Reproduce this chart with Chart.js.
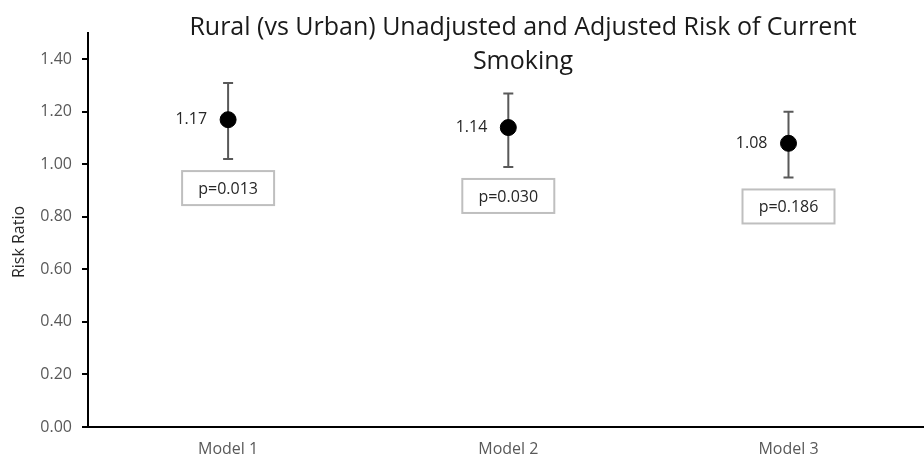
<!DOCTYPE html>
<html>
<head>
<meta charset="utf-8">
<script src="https://cdn.jsdelivr.net/npm/chart.js@4"></script>
<style>
  html, body { margin: 0; padding: 0; background: #fff; overflow: hidden; }
  #riskCanvas { display: block; }
</style>
</head>
<body>
<canvas id="riskCanvas" width="932" height="459"></canvas>
<script>
// ---------------- DATA ----------------
const models = ['Model 1', 'Model 2', 'Model 3'];
const riskRatio = [1.17, 1.14, 1.08];
const ciLower = [1.02, 0.99, 0.95];
const ciUpper = [1.31, 1.27, 1.20];
const pValues = ['p=0.013', 'p=0.030', 'p=0.186'];
const titleLines = ['Rural (vs Urban) Unadjusted and Adjusted Risk of Current', 'Smoking'];
const yTitle = 'Risk Ratio';

const FONT = "'Open Sans', sans-serif";

// error bars + labels + p boxes, drawn with the chart scales
const annotations = {
    id: 'annotations',
    beforeDatasetsDraw(chart) {
        const ctx = chart.ctx;
        const x = chart.scales.x, y = chart.scales.y;
        ctx.save();
        ctx.strokeStyle = '#595959';
        ctx.lineWidth = 2;
        models.forEach((m, i) => {
            const px = x.getPixelForValue(i + 1);
            const top = y.getPixelForValue(ciUpper[i]);
            const bot = y.getPixelForValue(ciLower[i]);
            ctx.beginPath();
            ctx.moveTo(px, top); ctx.lineTo(px, bot);
            ctx.moveTo(px - 5, top); ctx.lineTo(px + 5, top);
            ctx.moveTo(px - 5, bot); ctx.lineTo(px + 5, bot);
            ctx.stroke();
        });
        ctx.restore();
    },
    afterDatasetsDraw(chart) {
        const ctx = chart.ctx;
        const x = chart.scales.x, y = chart.scales.y;
        ctx.save();
        ctx.font = '16px ' + FONT;
        models.forEach((m, i) => {
            const px = x.getPixelForValue(i + 1);
            const py = y.getPixelForValue(riskRatio[i]);
            // value label
            ctx.fillStyle = '#262626';
            ctx.textAlign = 'right';
            ctx.textBaseline = 'middle';
            ctx.fillText(riskRatio[i].toFixed(2), px - 21, py);
            // p-value box
            const boxTop = y.getPixelForValue(ciLower[i]) + 12;
            ctx.fillStyle = '#fff';
            ctx.fillRect(px - 46, boxTop, 92, 34);
            ctx.strokeStyle = '#bfbfbf';
            ctx.lineWidth = 2;
            ctx.strokeRect(px - 46, boxTop, 92, 34);
            ctx.fillStyle = '#262626';
            ctx.textAlign = 'center';
            ctx.fillText(pValues[i], px, boxTop + 18);
        });
        // chart title
        ctx.fillStyle = '#1a1a1a';
        ctx.font = '25px ' + FONT;
        ctx.textAlign = 'center';
        ctx.textBaseline = 'alphabetic';
        ctx.fillText(titleLines[0], 523, 35);
        ctx.fillText(titleLines[1], 523, 69);
        // y axis title
        ctx.font = '16px ' + FONT;
        ctx.fillStyle = '#262626';
        ctx.translate(19, 242);
        ctx.rotate(-Math.PI / 2);
        ctx.textBaseline = 'middle';
        ctx.fillText(yTitle, 0, 0);
        ctx.restore();
    }
};

// ---------------- CONFIG ----------------
const config = {
    type: 'scatter',
    data: {
        datasets: [{
            data: riskRatio.map((v, i) => ({ x: i + 1, y: v })),
            showLine: false,
            pointRadius: 8,
            pointHoverRadius: 8,
            pointBackgroundColor: '#000',
            pointBorderColor: '#000',
            borderColor: '#000'
        }]
    },
    options: {
        responsive: false,
        animation: false,
        devicePixelRatio: 1,
        layout: { padding: { top: 33, right: 0, bottom: 0, left: 0 } },
        plugins: {
            legend: { display: false },
            tooltip: { enabled: false }
        },
        scales: {
            x: {
                type: 'linear',
                min: 0.5,
                max: 3.48,
                grid: { display: false, drawTicks: false },
                border: { display: true, color: '#000', width: 2 },
                afterBuildTicks(scale) { scale.ticks = models.map((m, i) => ({ value: i + 1 })); },
                ticks: {
                    color: '#595959',
                    font: { family: FONT, size: 16 },
                    padding: 13,
                    callback: v => models[v - 1]
                },
                afterFit(scale) { scale.height = 32; }
            },
            y: {
                min: 0,
                max: 1.5,
                grid: { drawOnChartArea: false, drawTicks: true, tickLength: 6, color: '#000', lineWidth: 2 },
                border: { display: true, color: '#000', width: 2 },
                ticks: {
                    stepSize: 0.2,
                    includeBounds: false,
                    padding: 10,
                    color: '#595959',
                    font: { family: FONT, size: 16 },
                    callback: v => v.toFixed(2)
                },
                afterFit(scale) { scale.width = 88; }
            }
        }
    },
    plugins: [annotations]
};

// ---------------- RENDER ----------------
const riskChart = new Chart(document.getElementById('riskCanvas').getContext('2d'), config);
</script>
</body>
</html>
